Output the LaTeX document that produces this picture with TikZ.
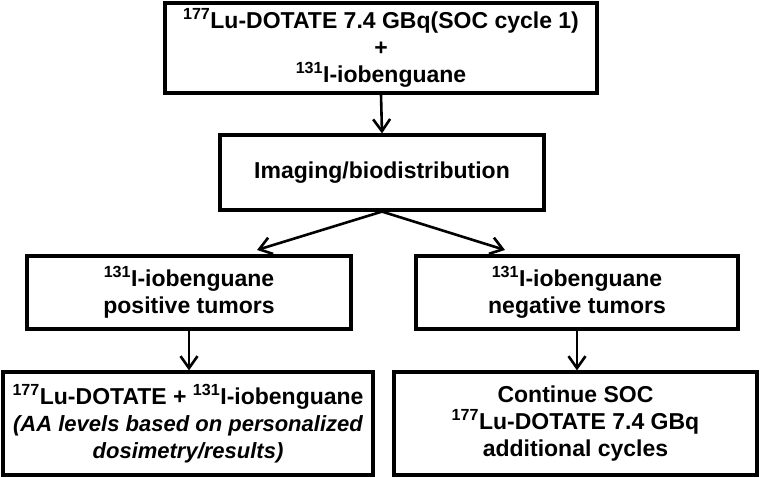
\documentclass[tikz,border=0pt]{standalone}
\usepackage{fontspec}
\setmainfont{Liberation Sans}
\usetikzlibrary{arrows.meta}
\begin{document}
\begin{tikzpicture}[x=1pt,y=1pt,
  box/.style={draw=black, line width=3.2pt, align=center, inner sep=0pt,
    font=\fontsize{23}{27}\selectfont\bfseries},
  conn/.style={line width=2.6pt, -{Straight Barb[length=12pt,width=17pt,line width=2.6pt]}}]
\useasboundingbox (0,0) rectangle (760,478);
\node[box, minimum width=432, minimum height=90] (b1) at (381,430)
  {\textsuperscript{177}Lu-DOTATE 7.4 GBq(SOC cycle 1)\\+\\\textsuperscript{131}I-iobenguane};
\node[box, minimum width=324, minimum height=75] (b2) at (382,305.5)
  {Imaging/biodistribution};
\node[box, minimum width=324, minimum height=73] (b3) at (189,185.5)
  {\textsuperscript{131}I-iobenguane\\positive tumors};
\node[box, minimum width=322, minimum height=73] (b4) at (577,185.5)
  {\textsuperscript{131}I-iobenguane\\negative tumors};
\node[box, minimum width=370, minimum height=103] (b5) at (188,54.5)
  {\textsuperscript{177}Lu-DOTATE + \textsuperscript{131}I-iobenguane\\{\fontsize{22}{27}\selectfont\itshape (AA levels based on personalized}\\{\fontsize{22}{27}\selectfont\itshape dosimetry/results)}};
\node[box, minimum width=363, minimum height=103] (b6) at (575.5,54.5)
  {Continue SOC\\\textsuperscript{177}Lu-DOTATE 7.4 GBq\\additional cycles};
\coordinate (t3) at (257,228);
\coordinate (t4) at (505,228);
\draw[conn] (b1.south) -- (b2.north);
\draw[conn] (b2.south) -- (t3);
\draw[conn] (b2.south) -- (t4);
\draw[conn] (b3.south) -- (b3.south |- b5.north);
\draw[conn] (b4.south) -- (b4.south |- b6.north);
\end{tikzpicture}
\end{document}
